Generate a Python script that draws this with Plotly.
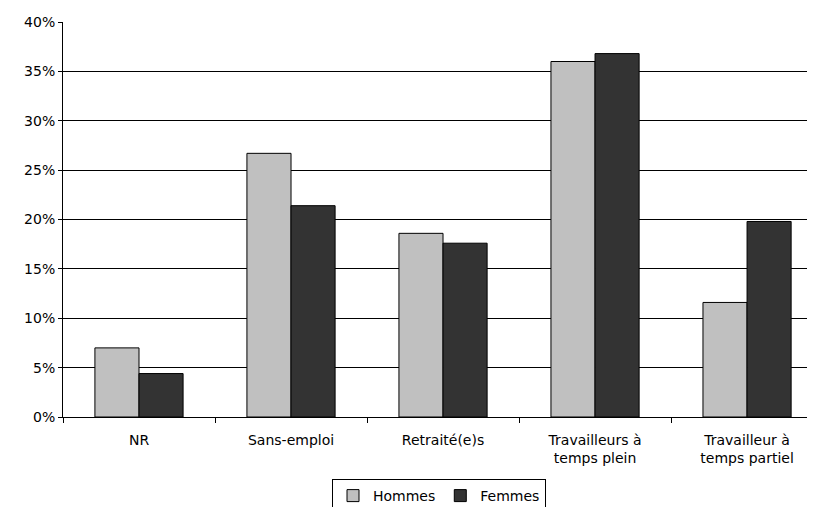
import plotly.graph_objects as go

categories = ["NR", "Sans-emploi", "Retraité(e)s", "Travailleurs à<br>temps plein", "Travailleur à<br>temps partiel"]
hommes = [7.0, 26.7, 18.6, 36.0, 11.6]
femmes = [4.4, 21.4, 17.6, 36.8, 19.8]

font = "Verdana, DejaVu Sans, sans-serif"

fig = go.Figure()
fig.add_bar(x=categories, y=hommes, name="Hommes",
            marker=dict(color="#C0C0C0", line=dict(color="#000000", width=1)))
fig.add_bar(x=categories, y=femmes, name="Femmes",
            marker=dict(color="#333333", line=dict(color="#000000", width=1)))

# page body has an 8px default margin, so figure is offset by (8, 8)
fig.update_layout(
    width=807, height=499,
    margin=dict(l=55, r=0, t=14, b=90, autoexpand=False),
    paper_bgcolor="white", plot_bgcolor="white",
    barmode="group", bargap=0.42, bargroupgap=0,
    font=dict(family=font, size=14, color="#000000"),
    showlegend=True,
    legend=dict(orientation="h", x=0.5, xanchor="center", y=-0.2, yanchor="middle",
                bordercolor="#000000", borderwidth=1, font=dict(size=14),
                itemwidth=30, traceorder="normal", tracegroupgap=0,
                itemclick=False),
)
fig.update_xaxes(range=[-0.5, 4.447], showline=True, linecolor="#000000", linewidth=1,
                 automargin=False, ticks="outside", tickson="boundaries", ticklen=5,
                 ticklabelstandoff=10,
                 tickcolor="#000000", showgrid=False, tickfont=dict(size=14))
fig.update_yaxes(range=[0, 40], dtick=5, ticksuffix="%", showline=True, linecolor="#000000",
                 linewidth=1, ticks="outside", ticklen=4, tickcolor="#000000", automargin=False,
                 showgrid=True, gridcolor="#000000", gridwidth=1, zeroline=False,
                 tickfont=dict(size=14))

fig.write_html("out.html")
